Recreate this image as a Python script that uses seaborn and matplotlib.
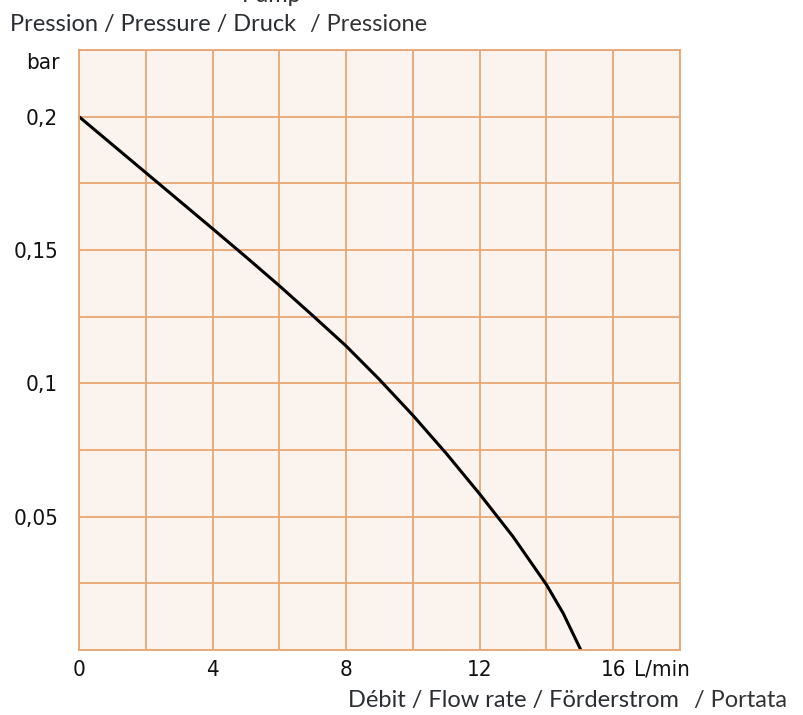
import numpy as np
import pandas as pd
import matplotlib.pyplot as plt
import seaborn as sns

# pump curve (L/min -> bar)
flow = [0, 1, 2, 3, 4, 5, 6, 7, 8, 9, 10, 11, 12, 13, 14, 14.5, 15.03]
pressure = [0.2, 0.1895, 0.179, 0.1685, 0.158, 0.1474, 0.1366, 0.1254, 0.114,
            0.1014, 0.088, 0.0737, 0.0585, 0.0425, 0.0245, 0.0138, 0.0]

xticks = [0, 2, 4, 6, 8, 10, 12, 14, 16, 18]
xticklabels = ["0", "", "4", "", "8", "", "12", "", "16", ""]
yticks = [0, 0.025, 0.05, 0.075, 0.1, 0.125, 0.15, 0.175, 0.2, 0.225]
yticklabels = ["", "", "0,05", "", "0,1", "", "0,15", "", "0,2", ""]

grid_col = "#E8A673"
bg_col = "#FBF3EE"

sns.set_theme(style="white")
plt.rcParams['font.family'] = ['DejaVu Sans']
plt.rcParams['font.stretch'] = 'condensed'

fig = plt.figure(figsize=(8.04, 7.15), dpi=100)
ax = fig.add_axes([79 / 804, 1 - 650 / 715, 601 / 804, 600 / 715])
ax.set_facecolor(bg_col)

df = pd.DataFrame({"flow": flow, "pressure": pressure})
sns.lineplot(data=df, x="flow", y="pressure", color="black", linewidth=2.2, ax=ax)

ax.set_xlim(0, 18)
ax.set_ylim(0, 0.225)
ax.set_xticks(xticks)
ax.set_xticklabels(xticklabels)
ax.set_yticks(yticks)
ax.set_yticklabels(yticklabels)
ax.tick_params(axis="both", length=0, labelsize=16, colors="#111111")
ax.tick_params(axis="x", pad=7)
ax.tick_params(axis="y", pad=15)
ax.grid(True, color=grid_col, linewidth=1.3)
ax.set_axisbelow(True)
for s in ax.spines.values():
    s.set_color(grid_col)
    s.set_linewidth(1.3)
ax.set_xlabel("")
ax.set_ylabel("")

ax.text(-0.032, 0.2201, "bar", transform=ax.get_yaxis_transform(), ha="right", va="center",
        fontsize=16, color="#111111")
ax.annotate("L/min", xy=(17.45, 0), xycoords=("data", "axes fraction"),
            xytext=(0, -7), textcoords="offset points", ha="center", va="top",
            fontsize=16, color="#111111")

title_font = ['Lato', 'DejaVu Sans']
fig.text(10 / 804, 1 - 25 / 715, "Pression / Pressure / Druck", ha="left", va="center",
         fontsize=17, color="#2a2e33", family=title_font, stretch="normal")
fig.text(310 / 804, 1 - 25 / 715, "/ Pressione", ha="left", va="center",
         fontsize=17, color="#333333", family=title_font, stretch="normal")
fig.text(272 / 804, 1 - 2 / 715, "Pump", ha="center", va="baseline",
         fontsize=17, color="#333333", family=title_font, stretch="normal")
fig.text(348 / 804, 1 - 700 / 715, "Débit / Flow rate / Förderstrom", ha="left", va="center",
         fontsize=17, color="#2a2e33", family=title_font, stretch="normal")
fig.text(694 / 804, 1 - 700 / 715, "/ Portata", ha="left", va="center",
         fontsize=17, color="#333333", family=title_font, stretch="normal")

fig.savefig("out.png", dpi=100)
